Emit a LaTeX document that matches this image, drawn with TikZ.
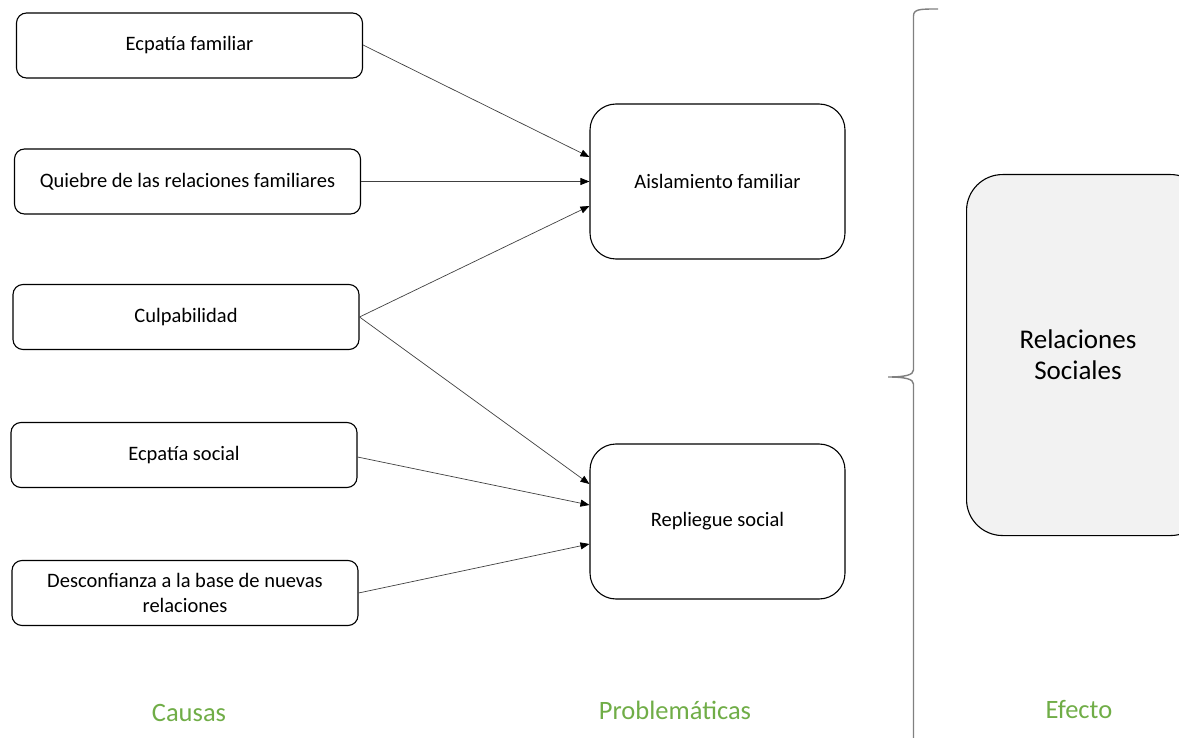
\documentclass[tikz,border=0pt]{standalone}
\usepackage{fontspec}
\setmainfont{Carlito}
\usetikzlibrary{arrows.meta}
\definecolor{headgreen}{HTML}{70AD47}
\definecolor{effectfill}{HTML}{F2F2F2}
\begin{document}
\begin{tikzpicture}[x=1pt,y=-1pt,
  causebox/.style={draw=black,line width=1.1pt,rounded corners=10pt,fill=white,
    minimum width=346pt,minimum height=65pt,align=center,inner sep=2pt,
    font=\fontsize{20.5}{25}\selectfont},
  probbox/.style={draw=black,line width=1.1pt,rounded corners=26pt,fill=white,
    minimum width=255pt,minimum height=155pt,align=center,
    font=\fontsize{20.5}{25}\selectfont},
  link/.style={draw=black!75,line width=0.7pt,
    -{Triangle[length=9pt,width=7pt,color=black]}},
  colhead/.style={text=headgreen,font=\fontsize{26.5}{30}\selectfont},
  bracepath/.style={draw=black!50,line width=1.4pt}]
\useasboundingbox (0,0) rectangle (1179,738);

% causes
\node[causebox] (c1) at (189.5,45.5) {Ecpatía familiar};
\node[causebox] (c2) at (187.5,181.5) {Quiebre de las relaciones familiares};
\node[causebox] (c3) at (186,317) {Culpabilidad};
\node[causebox] (c4) at (184,455) {Ecpatía social};
\node[causebox] (c5) at (185,593) {Desconfianza a la base de nuevas\\relaciones};

% problems
\node[probbox] (p1) at (717.5,181.5) {Aislamiento familiar};
\node[probbox] (p2) at (717.5,521.5) {Repliegue social};

% effect (runs past the right edge)
\node[draw=black,line width=1.1pt,rounded corners=36pt,fill=effectfill,
  minimum width=240pt,minimum height=361pt,anchor=north west,inner sep=0pt]
  (ef) at (966,174) {};
\node[font=\fontsize{27}{31}\selectfont,align=center] (eftext) at (1078,355) {Relaciones\\Sociales};

% connectors (yshift is upward on the page)
\draw[link] ([yshift=0.5pt]c1.east) -- ([yshift=24.5pt]p1.west);
\draw[link] (c2.east) -- (p1.west);
\draw[link] (c3.east) -- ([yshift=-24.5pt]p1.west);
\draw[link] (c3.east) -- ([yshift=37.5pt]p2.west);
\draw[link] ([yshift=-2pt]c4.east) -- ([yshift=16.5pt]p2.west);
\draw[link] (c5.east) -- ([yshift=-22.5pt]p2.west);

% brace
\coordinate (btop) at (938,9);
\coordinate (bmid) at (888,377);
\coordinate (bbot) at (913.5,745);
\draw[bracepath] (btop) .. controls (920,9) and (913.5,9) .. (913.5,16)
  -- (913.5,370) .. controls (913.5,375) and (905,377) .. (bmid)
  .. controls (905,377) and (913.5,379) .. (913.5,384) -- (bbot);

% column headings
\node[colhead] (h1) at (189,713) {Causas};
\node[colhead] (h2) at (675,710) {Problemáticas};
\node[colhead] (h3) at (1079,710) {Efecto};
\end{tikzpicture}
\end{document}
